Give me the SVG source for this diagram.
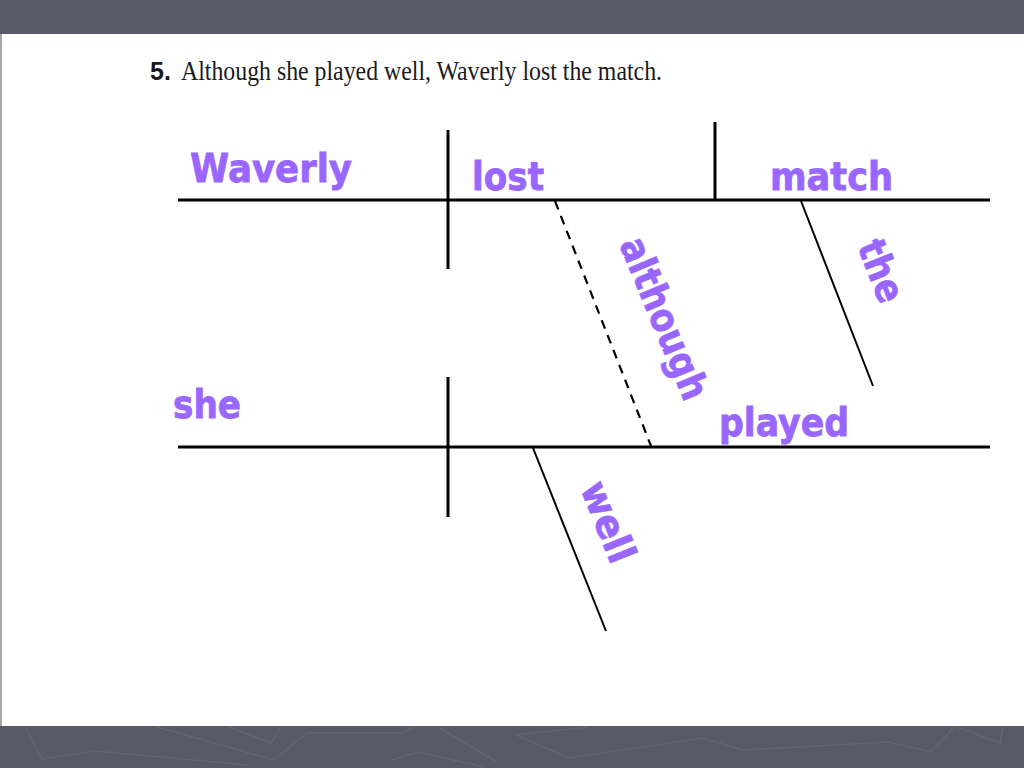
<svg xmlns="http://www.w3.org/2000/svg" width="1024" height="768" viewBox="0 0 1024 768">
  <style>
    .band { fill: #585a68; }
    .deco { fill: none; stroke: #626473; stroke-width: 1.5; }
    .line { stroke: #000; stroke-width: 3; fill: none; stroke-linecap: butt; }
    .slant { stroke: #000; stroke-width: 2; fill: none; }
    .dash { stroke: #000; stroke-width: 2.2; fill: none; stroke-dasharray: 9 7; }
    .word { font-family: "DejaVu Sans", Verdana, sans-serif; font-weight: bold; font-size: 39px; fill: #9966ff; stroke: #9966ff; stroke-width: 0.8; }
    .num { font-family: "Liberation Sans", Arial, sans-serif; font-weight: bold; font-size: 25px; fill: #1a1a1a; }
    .sent { font-family: "Liberation Serif", "Times New Roman", serif; font-size: 27px; fill: #1a1a1a; }
  </style>

  <!-- background -->
  <rect x="0" y="0" width="1024" height="768" fill="#ffffff"/>
  <rect class="band" x="0" y="0" width="1024" height="34"/>
  <rect class="band" x="0" y="726" width="1024" height="42"/>
  <line x1="1" y1="34" x2="1" y2="726" stroke="#8a8a8a" stroke-width="1.5"/>
  <g id="band-decoration">
    <polyline class="deco" points="26,728 42,759 95,751 248,765"/>
    <polyline class="deco" points="157,727 274,760 307,733 402,733 415,727"/>
    <polyline class="deco" points="229,727 271,743 281,727"/>
    <polyline class="deco" points="438,727 497,762"/>
    <polyline class="deco" points="392,760 418,752 484,767"/>
    <polyline class="deco" points="588,727 516,735 569,758 703,738 742,750 889,742 931,752 954,727"/>
    <polyline class="deco" points="957,727 1000,743 1003,727"/>
  </g>

  <!-- title -->
  <g id="title">
    <text class="num" x="150" y="80">5.</text>
    <text class="sent" x="181" y="80" textLength="481" lengthAdjust="spacingAndGlyphs">Although she played well, Waverly lost the match.</text>
  </g>

  <!-- connectors / diagram lines -->
  <g id="connectors">
    <line class="line" x1="178" y1="200" x2="990" y2="200"/>
    <line class="line" x1="448" y1="130" x2="448" y2="269"/>
    <line class="line" x1="715" y1="122" x2="715" y2="200"/>
    <line class="slant" x1="801" y1="201" x2="873" y2="386"/>
    <line class="dash" x1="555" y1="201" x2="651" y2="446"/>
    <line class="line" x1="178" y1="447" x2="990" y2="447"/>
    <line class="line" x1="448" y1="377" x2="448" y2="517"/>
    <line class="slant" x1="533" y1="448" x2="606" y2="631"/>
  </g>

  <!-- nodes -->
  <g id="node-waverly"><text class="word" x="190" y="182" textLength="162" lengthAdjust="spacingAndGlyphs">Waverly</text></g>
  <g id="node-lost"><text class="word" x="472" y="190" textLength="72" lengthAdjust="spacingAndGlyphs">lost</text></g>
  <g id="node-match"><text class="word" x="770" y="190" textLength="123" lengthAdjust="spacingAndGlyphs">match</text></g>
  <g id="node-the"><text class="word" transform="translate(857,246) rotate(68.5)" x="0" y="0" textLength="64" lengthAdjust="spacingAndGlyphs">the</text></g>
  <g id="node-although"><text class="word" transform="translate(619,244) rotate(67.5)" x="0" y="0" textLength="172" lengthAdjust="spacingAndGlyphs">although</text></g>
  <g id="node-she"><text class="word" x="173" y="418" textLength="68" lengthAdjust="spacingAndGlyphs">she</text></g>
  <g id="node-played"><text class="word" x="719" y="436" textLength="130" lengthAdjust="spacingAndGlyphs">played</text></g>
  <g id="node-well"><text class="word" transform="translate(580,488) rotate(68)" x="0" y="0" textLength="84" lengthAdjust="spacingAndGlyphs">well</text></g>
</svg>
